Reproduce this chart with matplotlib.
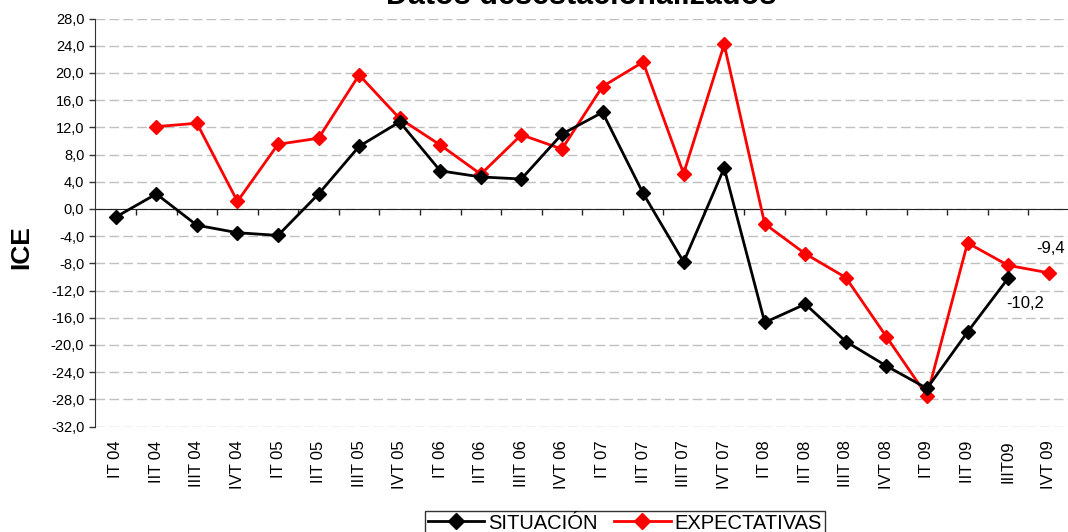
import numpy as np
import matplotlib.pyplot as plt
from matplotlib.ticker import FuncFormatter, FixedLocator

plt.rcParams['font.family'] = ['Liberation Sans', 'DejaVu Sans']

# Quarters and ICE values
quarters = ["IT 04", "IIT 04", "IIIT 04", "IVT 04",
            "IT 05", "IIT 05", "IIIT 05", "IVT 05",
            "IT 06", "IIT 06", "IIIT 06", "IVT 06",
            "IT 07", "IIT 07", "IIIT 07", "IVT 07",
            "IT 08", "IIT 08", "IIIT 08", "IVT 08",
            "IT 09", "IIT 09", "IIIT09", "IVT 09"]

situacion = [-1.2, 2.2, -2.4, -3.5, -3.9, 2.2, 9.2, 12.8,
             5.6, 4.7, 4.4, 11.0, 14.2, 2.3, -7.8, 6.0,
             -16.7, -14.0, -19.5, -23.1, -26.4, -18.1, -10.2, np.nan]

expectativas = [np.nan, 12.1, 12.6, 1.1, 9.5, 10.4, 19.7, 13.3,
                9.4, 5.1, 10.9, 8.8, 18.0, 21.6, 5.2, 24.2,
                -2.2, -6.6, -10.1, -18.8, -27.5, -5.0, -8.3, -9.4]

x = np.arange(len(quarters))

fig = plt.figure(figsize=(10.68, 5.32), dpi=100)
ax = fig.add_axes([0.0894, 0.1983, 0.9115, 0.7669])

ax.plot(x, situacion, color="black", lw=2, marker="D", ms=7.2,
        mec="black", mew=1, label="SITUACIÓN", zorder=4)
ax.plot(x, expectativas, color="#ff0000", lw=2, marker="D", ms=7.2,
        mec="#ff0000", mew=1, label="EXPECTATIVAS", zorder=3)

# last-value labels
ax.annotate("-10,2", xy=(x[22], situacion[22]), xytext=(12, -13),
            textcoords="offset points", ha="center", va="top", fontsize=12)
ax.annotate("-9,4", xy=(x[23], expectativas[23]), xytext=(1, 12),
            textcoords="offset points", ha="center", va="bottom", fontsize=12)

ax.set_xlim(-0.5, len(quarters) - 0.5)
ax.set_ylim(-32, 28)
ax.set_yticks(np.arange(-32, 29, 4))
ax.yaxis.set_major_formatter(FuncFormatter(lambda v, p: f"{v:.1f}".replace(".", ",")))
ax.tick_params(axis="y", labelsize=10.5, length=4, width=1, color="#333333", pad=4)

ax.grid(axis="y", color="#c0c0c0", lw=1, linestyle=(0, (7, 3)))
ax.set_axisbelow(True)

for s in ["top", "right"]:
    ax.spines[s].set_visible(False)
ax.spines["left"].set_color("#333333")
ax.spines["bottom"].set_position(("data", 0))
ax.spines["bottom"].set_color("#222222")
ax.spines["bottom"].set_zorder(2)

# tick marks between categories on the zero line
ax.xaxis.set_major_locator(FixedLocator(x))
ax.xaxis.set_minor_locator(FixedLocator(x[1:] - 0.5))
ax.tick_params(axis="x", which="major", length=0, labelbottom=False)
ax.tick_params(axis="x", which="minor", length=4, width=1, color="#222222")

# category labels at the bottom of the plot area
sec = ax.secondary_xaxis("bottom")
sec.set_xticks(x)
sec.set_xticklabels(quarters, rotation=90, fontsize=12)
sec.tick_params(length=0, pad=10)
sec.spines["bottom"].set_visible(False)

ax.set_ylabel("ICE", fontsize=19, fontweight="bold")
ax.yaxis.set_label_coords(-0.064, 0.44)

fig.text(0.544, 1 - 4 / 532, "Datos desestacionalizados", ha="center",
         va="baseline", fontsize=22, fontweight="bold")

leg = ax.legend(loc="upper center", bbox_to_anchor=(625 / 1068, 1 - 510.5 / 532),
                bbox_transform=fig.transFigure, ncol=2, fontsize=14.5, frameon=True,
                fancybox=False, edgecolor="black", handlelength=2.8,
                handletextpad=0.2, columnspacing=0.8, borderpad=0.15,
                markerscale=1.2, borderaxespad=0)
leg.get_frame().set_linewidth(1)

fig.savefig("out.png", dpi=100)
